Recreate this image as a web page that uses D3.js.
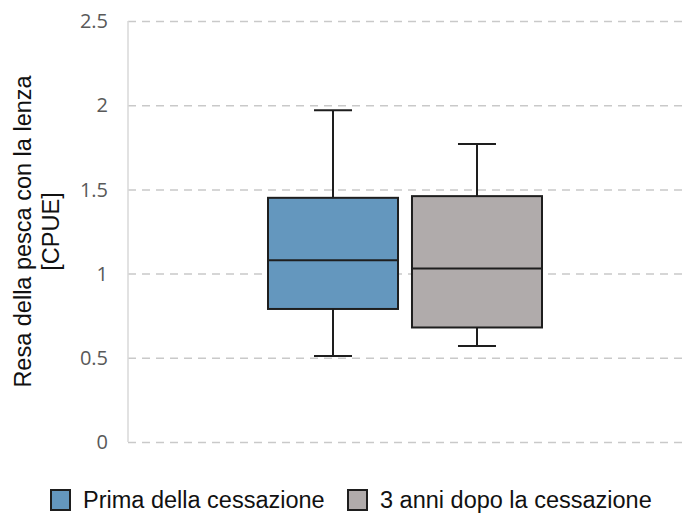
<!DOCTYPE html>
<html>
<head>
<meta charset="utf-8">
<script src="https://cdn.jsdelivr.net/npm/d3@7"></script>
<style>
  html, body { margin: 0; padding: 0; background: #fff; }
  svg { display: block; }
</style>
</head>
<body>
<svg id="chart" width="686" height="516"></svg>
<script>
// Box-plot summaries (min, q1, median, q3, max) for each period
const series = ["Prima della cessazione", "3 anni dopo la cessazione"];
const mins    = [0.51, 0.57];
const q1s     = [0.79, 0.68];
const medians = [1.08, 1.03];
const q3s     = [1.45, 1.46];
const maxs    = [1.97, 1.77];
const colors  = ["#6497be", "#b0abab"];
const yTicks  = [0, 0.5, 1, 1.5, 2, 2.5];
const yTickLabels = ["0", "0.5", "1", "1.5", "2", "2.5"];
const yTitle = ["Resa della pesca con la lenza", "[CPUE]"];

const svg = d3.select("#chart");
const margin = { left: 128, right: 4, top: 21, bottom: 74 };
const W = 686, H = 516;

const y = d3.scaleLinear()
  .domain([0, 2.5])
  .range([H - margin.bottom, margin.top]);

const x0 = d3.scaleBand()
  .domain(["all"])
  .range([margin.left, W - margin.right]);

const center = x0("all") + x0.bandwidth() / 2;
const x1 = d3.scaleBand()
  .domain(series)
  .range([center - 137, center + 137])
  .paddingInner(0.097)
  .paddingOuter(0);

// Dashed horizontal gridlines
const grid = svg.append("g")
  .attr("transform", `translate(${margin.left},0)`)
  .call(d3.axisLeft(y)
    .tickValues(yTicks)
    .tickSize(-(W - margin.left - margin.right))
    .tickFormat(""));
grid.select(".domain").remove();
grid.selectAll(".tick line")
  .attr("stroke", "#c9c9c9")
  .attr("stroke-width", 1.5)
  .attr("stroke-dasharray", "8,6");

// Left axis line and tick labels
svg.append("line")
  .attr("x1", margin.left).attr("x2", margin.left)
  .attr("y1", y(2.5)).attr("y2", y(0))
  .attr("stroke", "#d9d9d9").attr("stroke-width", 1.5);

svg.append("g")
  .selectAll("text")
  .data(yTicks)
  .join("text")
  .attr("x", 108)
  .attr("y", d => y(d))
  .attr("dy", "0.36em")
  .attr("text-anchor", "end")
  .attr("font-family", "'Open Sans', sans-serif")
  .attr("font-size", 20)
  .attr("fill", "#595959")
  .text((d, i) => yTickLabels[i]);

// Y-axis title (two lines, rotated)
const yt = svg.append("text")
  .attr("transform", `translate(31,${(y(0) + y(2.5)) / 2}) rotate(-90)`)
  .attr("text-anchor", "middle")
  .attr("font-family", "'Liberation Sans', Arial, sans-serif")
  .attr("font-size", 23.5)
  .attr("fill", "#111");
yt.append("tspan").attr("x", 0).attr("y", 0).text(yTitle[0]);
yt.append("tspan").attr("x", 0).attr("y", 28).text(yTitle[1]);

// Boxes
const stats = series.map((s, i) => ({
  name: s, min: mins[i], q1: q1s[i], med: medians[i], q3: q3s[i], max: maxs[i], color: colors[i]
}));
const capW = 38;
const stroke = "#1e1e1e";

const boxes = svg.append("g")
  .selectAll("g")
  .data(stats)
  .join("g");

boxes.each(function (d) {
  const g = d3.select(this);
  const bx = x1(d.name), bw = x1.bandwidth(), cx = bx + bw / 2;
  // whiskers
  g.append("line").attr("x1", cx).attr("x2", cx)
    .attr("y1", y(d.q3)).attr("y2", y(d.max))
    .attr("stroke", stroke).attr("stroke-width", 2);
  g.append("line").attr("x1", cx).attr("x2", cx)
    .attr("y1", y(d.q1)).attr("y2", y(d.min))
    .attr("stroke", stroke).attr("stroke-width", 2);
  g.append("line").attr("x1", cx - capW / 2).attr("x2", cx + capW / 2)
    .attr("y1", y(d.max)).attr("y2", y(d.max))
    .attr("stroke", stroke).attr("stroke-width", 2);
  g.append("line").attr("x1", cx - capW / 2).attr("x2", cx + capW / 2)
    .attr("y1", y(d.min)).attr("y2", y(d.min))
    .attr("stroke", stroke).attr("stroke-width", 2);
  // box
  g.append("rect")
    .attr("x", bx).attr("width", bw)
    .attr("y", y(d.q3)).attr("height", y(d.q1) - y(d.q3))
    .attr("fill", d.color)
    .attr("stroke", stroke).attr("stroke-width", 2);
  // median
  g.append("line").attr("x1", bx).attr("x2", bx + bw)
    .attr("y1", y(d.med)).attr("y2", y(d.med))
    .attr("stroke", stroke).attr("stroke-width", 2);
});

// Legend
const legendX = [51, 348];
const legend = svg.append("g")
  .selectAll("g")
  .data(stats)
  .join("g")
  .attr("transform", (d, i) => `translate(${legendX[i]},490)`);
legend.append("rect")
  .attr("width", 19).attr("height", 20)
  .attr("fill", d => d.color)
  .attr("stroke", stroke).attr("stroke-width", 2);
legend.append("text")
  .attr("x", 32).attr("y", 17.5)
  .attr("font-family", "'Liberation Sans', Arial, sans-serif")
  .attr("font-size", 23.5)
  .attr("fill", "#111")
  .text(d => d.name);
</script>
</body>
</html>
